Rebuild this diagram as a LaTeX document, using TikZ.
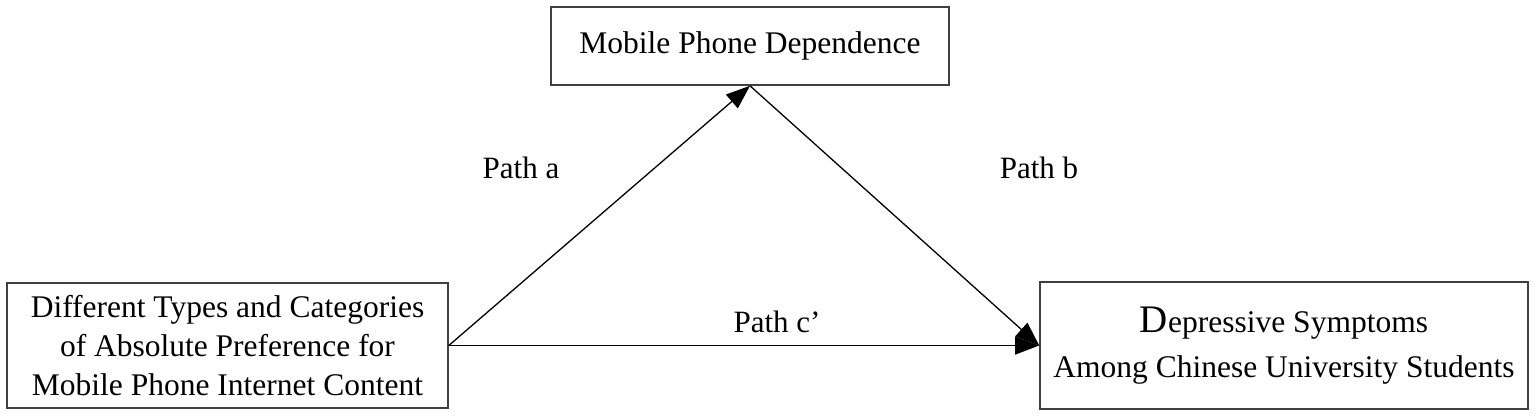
\documentclass[tikz,border=0pt]{standalone}
\usepackage{fontspec}
\setmainfont{Liberation Serif}
\usetikzlibrary{arrows.meta}
\begin{document}
\begin{tikzpicture}[x=1pt,y=-1pt,
  box/.style={draw=black!75, line width=1.6pt, align=center, inner sep=0pt,
    font=\fontsize{31.5}{39}\selectfont},
  conn/.style={line width=1.3pt, -{Triangle[length=24pt,width=18pt]}},
  lbl/.style={font=\fontsize{31}{36}\selectfont, inner sep=0pt}]
\useasboundingbox (0,0) rectangle (1535,417);
\node[box, minimum width=398pt, minimum height=78pt] (m) at (750,46) {Mobile Phone Dependence};
\node[box, minimum width=441pt, minimum height=125pt] (x) at (227.5,345.5)
  {Different Types and Categories\\of Absolute Preference for\\Mobile Phone Internet Content};
\node[box, minimum width=488pt, minimum height=127pt, font=\fontsize{31.5}{45}\selectfont] (y) at (1284,345.5)
  {{\fontsize{39}{39}\selectfont D}epressive Symptoms\\Among Chinese University Students};
\draw[conn] (x.east) -- (m.south);
\draw[conn] (m.south) -- (y.west);
\draw[conn] (x.east) -- (y.west);
\node[lbl] (la) at (521,168) {Path a};
\node[lbl] (lb) at (1039,168) {Path b};
\node[lbl] (lc) at (777,322) {Path c’};
\end{tikzpicture}
\end{document}
